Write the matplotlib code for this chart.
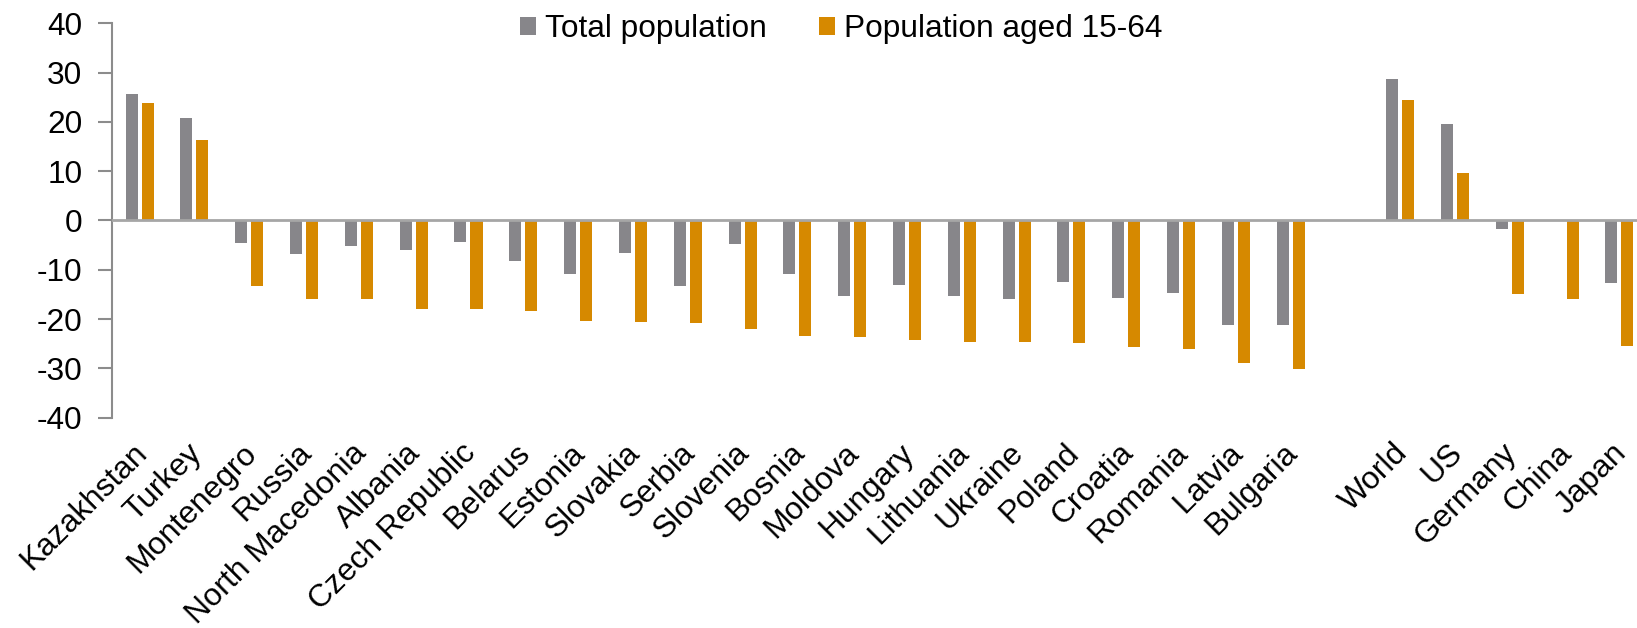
import numpy as np
import matplotlib
matplotlib.use("Agg")
import matplotlib.pyplot as plt
from matplotlib.transforms import ScaledTranslation

plt.rcParams['font.family'] = ['Liberation Sans', 'DejaVu Sans']
plt.rcParams['axes.unicode_minus'] = False

# country group
countries = ['Kazakhstan', 'Turkey', 'Montenegro', 'Russia', 'North Macedonia', 'Albania',
             'Czech Republic', 'Belarus', 'Estonia', 'Slovakia', 'Serbia', 'Slovenia',
             'Bosnia', 'Moldova', 'Hungary', 'Lithuania', 'Ukraine', 'Poland', 'Croatia',
             'Romania', 'Latvia', 'Bulgaria']
total_pop = [25.6, 20.7, -4.5, -6.8, -5.1, -5.9, -4.3, -8.3, -10.9, -6.6, -13.3, -4.7,
             -10.8, -15.3, -13.0, -15.4, -16.0, -12.4, -15.7, -14.8, -21.3, -21.3]
working_pop = [23.9, 16.3, -13.2, -15.9, -16.0, -18.0, -18.0, -18.4, -20.4, -20.5, -20.7, -22.0,
               -23.5, -23.7, -24.2, -24.6, -24.7, -24.8, -25.7, -26.1, -29.0, -30.1]

# benchmarks
bench = ['World', 'US', 'Germany', 'China', 'Japan']
bench_total = [28.7, 19.5, -1.8, -0.1, -12.6]
bench_working = [24.5, 9.7, -15.0, -16.0, -25.4]

labels = countries + bench
tot = np.array(total_pop + bench_total)
wrk = np.array(working_pop + bench_working)
# one empty slot between Bulgaria and World
x = np.concatenate([np.arange(len(countries)), np.arange(len(bench)) + len(countries) + 1])

grey = '#87868A'
orange = '#D68900'
axis_grey = '#8C8C8C'
fs = 22.8

fig = plt.figure(figsize=(16.37, 6.28), dpi=100)
ax = fig.add_axes([0.0682, 0.3349, 0.9318, 0.628])

w = 0.219
off = 0.146
ax.bar(x - off, tot, width=w, color=grey, label='Total population', zorder=2)
ax.bar(x + off, wrk, width=w, color=orange, label='Population aged 15-64', zorder=2)
ax.axhline(0, color='#A6A6A6', lw=2, zorder=3)

ax.set_xlim(-0.511, 27.32)
ax.set_ylim(-40, 40)
ax.set_yticks(np.arange(-40, 41, 10))
ax.set_xticks(x)
ax.set_xticklabels(labels, rotation=45, ha='right', va='top', rotation_mode='anchor')

for s in ['top', 'right', 'bottom']:
    ax.spines[s].set_visible(False)
ax.spines['left'].set_color(axis_grey)
ax.spines['left'].set_linewidth(1.5)
ax.tick_params(axis='y', length=10, width=1.5, color=axis_grey, labelsize=fs, pad=11)
ax.tick_params(axis='x', length=0, labelsize=fs, pad=14.5)

# nudge the slanted labels a little left
shift = ScaledTranslation(-0.08, 0, fig.dpi_scale_trans)
for lbl in ax.get_xticklabels():
    lbl.set_transform(lbl.get_transform() + shift)

fig.legend(loc='upper left', bbox_to_anchor=(520 / 1637, 1 - 14 / 628), ncol=2,
           frameon=False, fontsize=fs, handlelength=0.52, handleheight=0.5,
           handletextpad=0.27, columnspacing=1.65, borderpad=0, borderaxespad=0)

fig.savefig('out.png', dpi=100)
